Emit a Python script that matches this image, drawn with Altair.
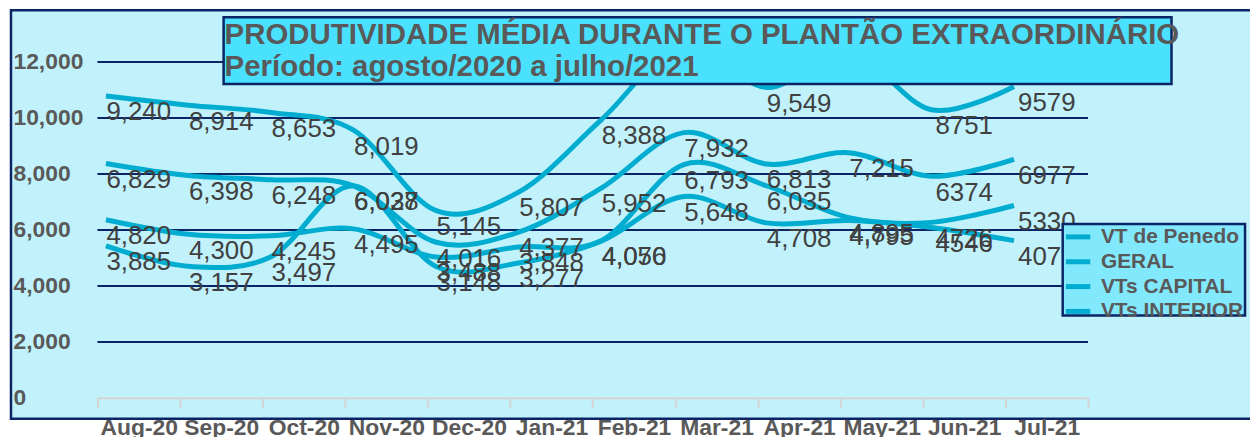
import altair as alt
import pandas as pd

months = ["Aug-20", "Sep-20", "Oct-20", "Nov-20", "Dec-20", "Jan-21",
          "Feb-21", "Mar-21", "Apr-21", "May-21", "Jun-21", "Jul-21"]
vt_penedo = [3885, 3157, 3497, 6037, 3148, 3277, 4056, 5648, 4708, 4795, 4546, 4075]
geral = [6829, 6398, 6248, 6028, 4016, 4377, 5952, 7932, 6813, 7215, 6374, 6977]
vts_capital = [9240, 8914, 8653, 8019, 5145, 5807, 8388, 11100, 9549, 10816, 8751, 9579]
vts_interior = [4820, 4300, 4245, 4495, 3488, 3848, 4070, 6793, 6035, 4895, 4726, 5330]
series_names = ["VT de Penedo", "GERAL", "VTs CAPITAL", "VTs INTERIOR"]
plain_months = ["Jun-21", "Jul-21"]   # labels shown without thousands separator
y_ticks = [0, 2000, 4000, 6000, 8000, 10000, 12000]
grid_values = [2000, 4000, 6000, 8000, 10000, 12000]
title_line1 = "PRODUTIVIDADE MÉDIA DURANTE O PLANTÃO EXTRAORDINÁRIO"
title_line2 = "Período: agosto/2020 a julho/2021"

rows = []
for name, vals in zip(series_names, [vt_penedo, geral, vts_capital, vts_interior]):
    for m, v in zip(months, vals):
        lab = str(v) if m in plain_months else f"{v:,}"
        rows.append({"month": m, "series": name, "value": v, "label": lab})
df = pd.DataFrame(rows)

FONT = "Liberation Sans"
NAVY = "#0B2466"
LINE = "#00ADD0"
BG = "#C1F2FC"
TITLE_FILL = "#4AE1FE"
LEGEND_FILL = "#82E8FC"
GRAY = "#595959"

one = pd.DataFrame({"a": [0]})

x_enc = alt.X("month:N", sort=months,
              scale=alt.Scale(type="band", paddingInner=0, paddingOuter=0),
              axis=alt.Axis(title=None, labelAngle=0, tickBand="extent",
                            labelFontSize=23, labelFontWeight="bold", labelColor=GRAY,
                            labelFont=FONT, domainColor="#D4D4D4", tickColor="#D4D4D4",
                            domainWidth=2, tickWidth=2, tickSize=10, labelPadding=9,
                            labelOverlap=False, labelBound=False, labelLimit=0, zindex=1))
y_enc = alt.Y("value:Q", scale=alt.Scale(domain=[0, 12000], nice=False, zero=True),
              axis=alt.Axis(title=None, values=y_ticks, format=",.0f", grid=False,
                            domain=False, ticks=False, tickSize=0, labelAlign="left",
                            labelPadding=85, labelFontSize=23, labelFontWeight="bold",
                            labelColor=GRAY, labelFont=FONT, zindex=1))

bg = alt.Chart(one).mark_rect(fill=BG, stroke=NAVY, strokeWidth=2.5).encode(
    x=alt.value(-87), x2=alt.value(1175), y=alt.value(-52), y2=alt.value(359))

grid = alt.Chart(pd.DataFrame({"value": grid_values})).mark_rule(
    color=NAVY, strokeWidth=2).encode(y=y_enc)

lines = alt.Chart(df).mark_line(interpolate="cardinal", strokeWidth=5,
                                xOffset=-33, yOffset=-43.5).encode(
    x=x_enc, y=y_enc,
    color=alt.Color("series:N", sort=series_names,
                    scale=alt.Scale(domain=series_names, range=[LINE] * 4),
                    legend=alt.Legend(orient="none", legendX=972, legendY=161,
                                      title=None, padding=0, rowPadding=0,
                                      symbolType="stroke", symbolStrokeWidth=5,
                                      symbolSize=600, labelFontSize=21,
                                      labelFontWeight="bold", labelColor=GRAY,
                                      labelFont=FONT, labelOffset=8, labelLimit=0)),
    detail="series:N")

labels = alt.Chart(df).mark_text(fontSize=26, color="#404040", font=FONT, dy=-27).encode(
    x=x_enc, y=y_enc, text="label:N")

legend_box = alt.Chart(one).mark_rect(fill=LEGEND_FILL, stroke=NAVY, strokeWidth=2.5).encode(
    x=alt.value(971.5), x2=alt.value(1155), y=alt.value(163), y2=alt.value(255))

title_box = alt.Chart(one).mark_rect(fill=TITLE_FILL, stroke=NAVY, strokeWidth=2.5).encode(
    x=alt.value(127), x2=alt.value(1081), y=alt.value(-45), y2=alt.value(22))

t1 = alt.Chart(pd.DataFrame({"t": [title_line1]})).mark_text(
    align="left", baseline="alphabetic", fontSize=29.6, fontWeight="bold",
    color=GRAY, font=FONT).encode(x=alt.value(128), y=alt.value(-18), text="t:N")
t2 = alt.Chart(pd.DataFrame({"t": [title_line2]})).mark_text(
    align="left", baseline="alphabetic", fontSize=29.6, fontWeight="bold",
    color=GRAY, font=FONT).encode(x=alt.value(128), y=alt.value(14), text="t:N")

chart = alt.layer(bg, grid, lines, labels, legend_box, title_box, t1, t2).properties(
    width=997, height=338,
    autosize=alt.AutoSizeParams(type="none"),
    padding={"left": 90, "top": 53, "right": 163, "bottom": 38},
    background="white",
).configure_view(stroke=None)

chart.save("out.html", embed_options={"renderer": "svg", "actions": False})
